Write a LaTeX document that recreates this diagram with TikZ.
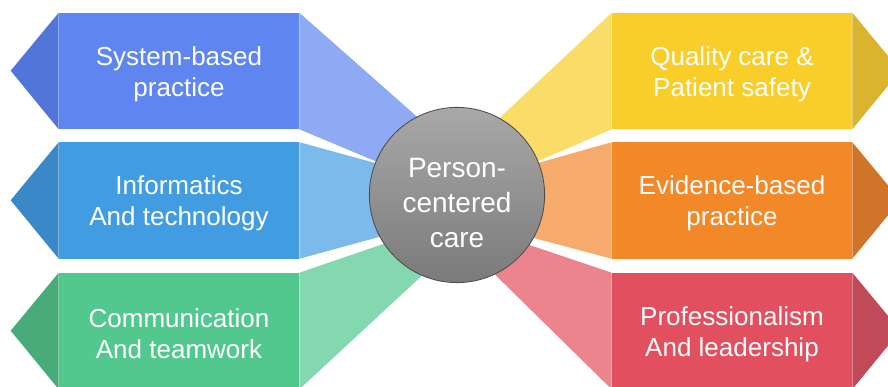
\documentclass[tikz,border=0pt]{standalone}
\usepackage{fontspec}
\setmainfont{Liberation Sans}
\usetikzlibrary{positioning}

\definecolor{sysmain}{RGB}{95,134,240}
\definecolor{sysflap}{RGB}{143,170,245}
\definecolor{syspt}{RGB}{82,117,218}
\definecolor{infmain}{RGB}{66,156,226}
\definecolor{infflap}{RGB}{124,186,236}
\definecolor{infpt}{RGB}{58,136,200}
\definecolor{commain}{RGB}{82,200,142}
\definecolor{comflap}{RGB}{132,216,176}
\definecolor{compt}{RGB}{72,172,122}
\definecolor{qualmain}{RGB}{250,206,42}
\definecolor{qualflap}{RGB}{250,220,104}
\definecolor{qualpt}{RGB}{218,180,46}
\definecolor{evimain}{RGB}{242,136,40}
\definecolor{eviflap}{RGB}{246,170,108}
\definecolor{evipt}{RGB}{208,116,42}
\definecolor{promain}{RGB}{226,80,96}
\definecolor{proflap}{RGB}{236,132,142}
\definecolor{propt}{RGB}{192,74,88}

\tikzset{
  box/.style={rectangle, minimum width=6cm, minimum height=2.9cm, inner sep=0pt},
  boxtext/.style={text=white, align=center, font=\fontsize{18.5}{22}\selectfont},
  hub/.style={circle, minimum size=4.38cm, inner sep=0pt, draw=black!70, line width=0.6pt,
    top color=black!34, bottom color=black!52},
  hubtext/.style={text=white, align=center, font=\fontsize{19.9}{24.9}\selectfont}
}

\begin{document}
\begin{tikzpicture}[x=0.025cm,y=-0.025cm]
\clip (0,0) rectangle (888,387);

% left column
\node [box, fill=sysmain] (system) at (179,71) {};
\node [box, fill=infmain] (informatics) at (179,200.5) {};
\node [box, fill=commain] (communication) at (179,331) {};

% right column
\node [box, fill=qualmain] (quality) at (732,71) {};
\node [box, fill=evimain] (evidence) at (732,200.5) {};
\node [box, fill=promain] (professionalism) at (732,331) {};

% outer points
\fill [syspt] (system.north west) -- ++(-48,58) -- (system.south west) -- cycle;
\fill [infpt] (informatics.north west) -- ++(-48,58) -- (informatics.south west) -- cycle;
\fill [compt] (communication.north west) -- ++(-48,58) -- (communication.south west) -- cycle;
\fill [qualpt] (quality.north east) -- ++(48,58) -- (quality.south east) -- cycle;
\fill [evipt] (evidence.north east) -- ++(48,58) -- (evidence.south east) -- cycle;
\fill [propt] (professionalism.north east) -- ++(48,58) -- (professionalism.south east) -- cycle;

% flaps towards the hub
\fill [sysflap] (system.north east) -- (440,137) -- (430,184) -- (system.south east) -- cycle;
\fill [infflap] (informatics.north east) -- (430,178) -- (430,223) -- (informatics.south east) -- cycle;
\fill [comflap] (communication.north east) -- (430,228) -- (440,259) -- (communication.south east) -- cycle;
\fill [qualflap] (quality.north west) -- (475,141) -- (485,184) -- (quality.south west) -- cycle;
\fill [eviflap] (evidence.north west) -- (485,178) -- (485,225) -- (evidence.south west) -- cycle;
\fill [proflap] (professionalism.north west) -- (485,230) -- (475,255) -- (professionalism.south west) -- cycle;

\node [hub] (care) at (457,195) {};

% labels
\node [boxtext] (systemtext) at (179,74) {System-based\\practice};
\node [boxtext] (informaticstext) at (179,203.5) {Informatics\\And technology};
\node [boxtext] (communicationtext) at (179,334) {Communication\\And teamwork};
\node [boxtext] (qualitytext) at (732,74) {Quality care \&\\Patient safety};
\node [boxtext] (evidencetext) at (732,203.5) {Evidence-based\\practice};
\node [boxtext] (professionalismtext) at (732,334) {Professionalism\\And leadership};
\node [hubtext] (caretext) at (457,203) {Person-\\centered\\care};

\end{tikzpicture}
\end{document}
